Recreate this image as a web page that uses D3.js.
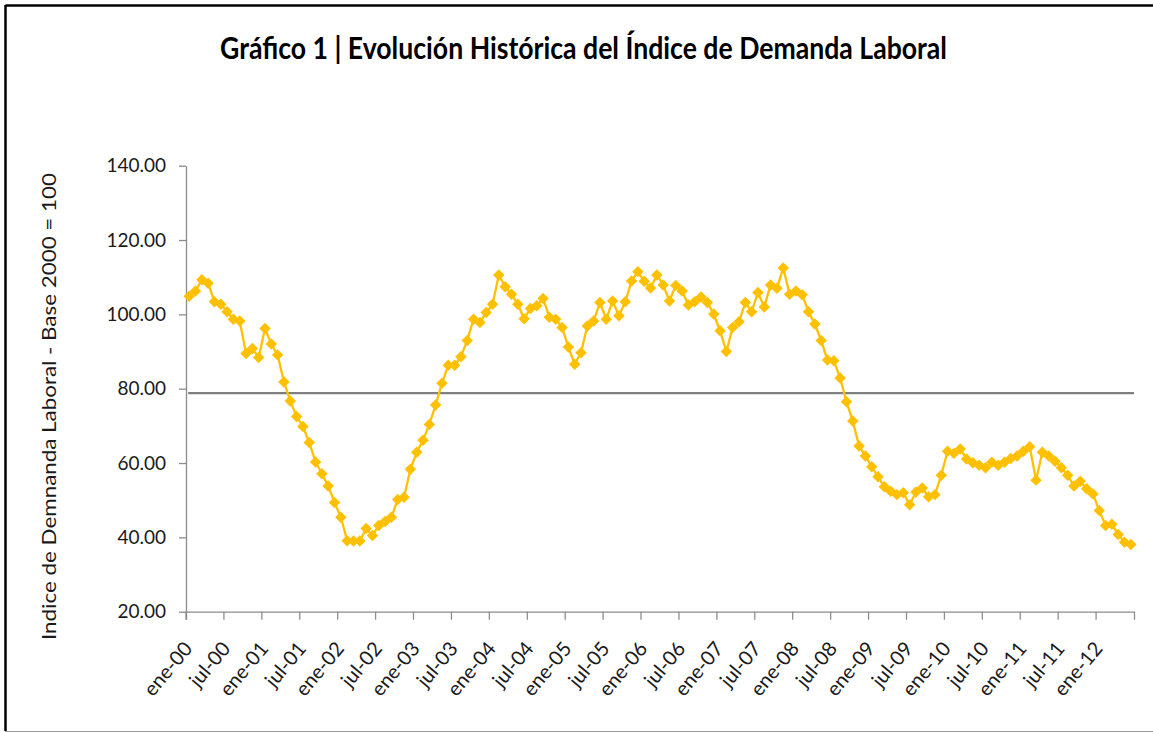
<!DOCTYPE html>
<html>
<head>
<meta charset="utf-8">
<script src="https://cdn.jsdelivr.net/npm/d3@7"></script>
<style>
  body { margin: 0; background: #fff; }
  svg { display: block; }
  text { font-family: Lato, "Open Sans", sans-serif; fill: #1a1a1a; }
</style>
</head>
<body>
<div id="graph"></div>
<script>
// DATA
// Month names used to build the categories (ene-00 ... jun-12)
const monthNames = ["ene", "feb", "mar", "abr", "may", "jun", "jul", "ago", "sep", "oct", "nov", "dic"]
const years = ["00", "01", "02", "03", "04", "05", "06", "07", "08", "09", "10", "11", "12"]

// Index values, one per month
const indexValues = [
  104.9, 106.3, 109.3, 108.4, 103.4, 102.7, 100.7, 98.7, 98.2, 89.5, 90.8, 88.4,
  96.2, 92.0, 89.1, 81.8, 76.7, 72.5, 69.8, 65.5, 60.3, 57.1, 53.8, 49.4,
  45.4, 39.1, 39.0, 39.0, 42.4, 40.5, 43.2, 44.3, 45.4, 50.2, 50.8, 58.3,
  62.9, 66.1, 70.4, 75.6, 81.5, 86.3, 86.3, 88.6, 93.0, 98.7, 97.8, 100.5,
  102.7, 110.6, 107.4, 105.4, 102.7, 98.8, 101.6, 102.3, 104.3, 99.2, 98.7, 96.5,
  91.2, 86.6, 89.7, 96.9, 98.2, 103.2, 98.7, 103.6, 99.6, 103.4, 109.0, 111.5,
  108.9, 107.1, 110.6, 107.9, 103.6, 107.8, 106.3, 102.5, 103.4, 104.7, 103.2, 100.1,
  95.6, 90.0, 96.5, 98.0, 103.2, 100.7, 105.9, 102.0, 107.9, 107.0, 112.5, 105.4,
  106.3, 105.3, 100.7, 97.4, 93.0, 87.7, 87.5, 82.9, 76.5, 71.3, 64.6, 61.9,
  59.0, 56.3, 53.6, 52.4, 51.5, 52.0, 48.8, 52.2, 53.3, 50.9, 51.5, 56.7,
  63.2, 62.6, 63.8, 61.1, 60.1, 59.4, 58.7, 60.2, 59.4, 60.2, 61.2, 61.9,
  63.2, 64.4, 55.4, 62.9, 61.9, 60.5, 58.7, 56.7, 53.8, 55.1, 53.1, 51.7,
  47.2, 43.2, 43.5, 40.8, 38.7, 38.1
]

// Horizontal reference line (average level)
const averageValue = [78.8]

// Tick labels shown on the x axis (every 6 months)
const xTickLabels = ["ene-00", "jul-00", "ene-01", "jul-01", "ene-02", "jul-02", "ene-03", "jul-03",
  "ene-04", "jul-04", "ene-05", "jul-05", "ene-06", "jul-06", "ene-07", "jul-07", "ene-08",
  "jul-08", "ene-09", "jul-09", "ene-10", "jul-10", "ene-11", "jul-11", "ene-12"]

const yTicks = [20, 40, 60, 80, 100, 120, 140]

// Build the category list
const categories = []
years.forEach(y => monthNames.forEach(m => categories.push(`${m}-${y}`)))
categories.length = indexValues.length
const data = categories.map((c, i) => ({ cat: c, value: indexValues[i] }))

// Colours
const lineColour = "#FFC000"
const axisColour = "#8c8c8c"
const avgColour = "#7f7f7f"

// SETUP
const width = 1153
const height = 732
const plot = { left: 186, right: 1134, top: 165.7, bottom: 611.7 }

const svg = d3.select("#graph").append("svg").attr("width", width).attr("height", height)

// Frame round the chart (right edge falls outside the picture)
svg.append("line").attr("x1", 5.5).attr("x2", width).attr("y1", 5.5).attr("y2", 5.5)
  .attr("stroke", "#000").attr("stroke-width", 2.5)
svg.append("line").attr("x1", 5.5).attr("x2", 5.5).attr("y1", 5).attr("y2", 731)
  .attr("stroke", "#000").attr("stroke-width", 2.5)
svg.append("line").attr("x1", 5).attr("x2", width).attr("y1", 731.5).attr("y2", 731.5)
  .attr("stroke", "#9a9a9a").attr("stroke-width", 1)

// Title
svg.append("text")
  .attr("x", 583.5).attr("y", 59)
  .attr("text-anchor", "middle")
  .attr("textLength", 727).attr("lengthAdjust", "spacingAndGlyphs")
  .style("font-size", "30px").style("font-weight", "bold").style("fill", "#000")
  .text("Gráfico 1 | Evolución Histórica del Índice de Demanda Laboral")

// Scales
const xScale = d3.scaleBand().domain(categories).range([plot.left, plot.right]).padding(0)
const bw = xScale.bandwidth()
const xPos = d => xScale(d.cat) + bw / 2

const yScale = d3.scaleLinear().domain([20, 140]).range([plot.bottom, plot.top])

// Y axis
const yAxis = svg.append("g").attr("transform", `translate(${plot.left}, 0)`)
  .call(d3.axisLeft(yScale).tickValues(yTicks).tickFormat(d3.format(".2f"))
    .tickSize(7).tickSizeOuter(0).tickPadding(13))
yAxis.select(".domain").attr("stroke", axisColour).attr("stroke-width", 1.3)
yAxis.selectAll(".tick line").attr("stroke", axisColour).attr("stroke-width", 1.3)
yAxis.selectAll(".tick text").style("font-size", "19px").style("font-family", "Lato").attr("fill", "#1a1a1a")

// Y axis title
svg.append("text")
  .attr("transform", `translate(56, 406.5) rotate(-90)`)
  .attr("text-anchor", "middle")
  .attr("textLength", 467).attr("lengthAdjust", "spacingAndGlyphs")
  .style("font-size", "19px")
  .text("Indice de Demnanda Laboral - Base 2000 = 100")

// X axis, ticks sit on the category boundaries
const tickCats = xTickLabels.map((l, i) => categories[i * 6])
const xAxis = svg.append("g").attr("transform", `translate(0, ${plot.bottom})`)
  .call(d3.axisBottom(xScale).tickValues(tickCats).tickSize(8).tickSizeOuter(8).tickFormat(() => ""))
xAxis.select(".domain").attr("stroke", axisColour).attr("stroke-width", 1.3)
xAxis.selectAll(".tick line").attr("stroke", axisColour).attr("stroke-width", 1.3)
  .attr("transform", `translate(${-bw / 2}, 0)`)

// Rotated x labels
svg.append("g").selectAll("text").data(tickCats).join("text")
  .attr("transform", d => `translate(${xScale(d) + bw / 2 - 1}, ${plot.bottom + 33}) rotate(-50)`)
  .attr("text-anchor", "end")
  .attr("dy", "0.35em")
  .style("font-size", "20px")
  .text((d, i) => xTickLabels[i])

// Average line
svg.append("g").selectAll("line").data(averageValue).join("line")
  .attr("x1", xPos(data[0]) - 1).attr("x2", plot.right)
  .attr("y1", d => yScale(d)).attr("y2", d => yScale(d))
  .attr("stroke", avgColour).attr("stroke-width", 2.2)

// Series line
const line = d3.line().x(xPos).y(d => yScale(d.value))
svg.append("path").datum(data)
  .attr("d", line)
  .attr("fill", "none")
  .attr("stroke", lineColour)
  .attr("stroke-width", 2.3)

// Diamond markers
const diamond = d3.symbol().type(d3.symbolSquare).size(66)
svg.append("g").selectAll("path").data(data).join("path")
  .attr("d", diamond)
  .attr("transform", d => `translate(${xPos(d)}, ${yScale(d.value)}) rotate(45)`)
  .attr("fill", lineColour)
</script>
</body>
</html>
